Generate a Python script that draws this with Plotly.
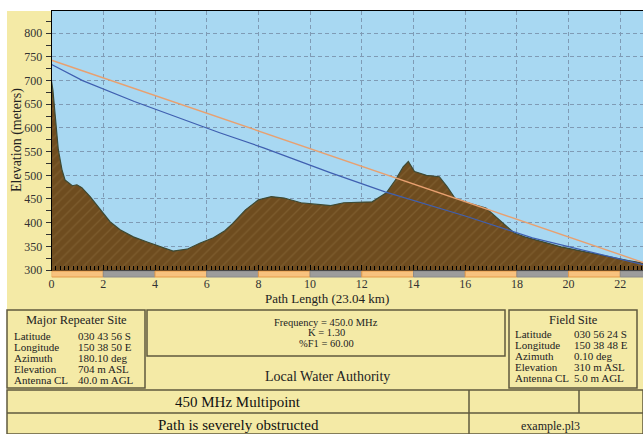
import plotly.graph_objects as go

W, H = 643, 434

# ---------------- data ----------------
terrain_km = [0, 0.05, 0.26, 0.33, 0.4, 0.52, 0.65, 0.8, 0.98, 1.17, 1.49, 1.88, 2.26,
              2.65, 3.16, 3.7, 4.2, 4.7, 5.24, 5.75, 6.26, 6.7, 7.0, 7.5, 8.0, 8.5,
              9.0, 9.65, 10.4, 10.8, 11.3, 12.4, 12.95, 13.3, 13.6, 13.8, 14.04, 14.5,
              15.0, 15.3, 15.6, 16.1, 16.8, 17.3, 17.9, 18.3, 19.0, 19.7, 20.5, 21.5,
              22.3, 23.04]
terrain_m = [698, 680, 554, 533, 512, 490, 484, 478, 480, 474, 455, 427, 402,
             385, 370, 359, 349, 340, 344, 357, 368, 383, 398, 427, 448, 455,
             452, 442, 438, 436, 442, 444, 463, 490, 518, 529, 508, 500,
             497, 476, 452, 442, 431, 406, 378, 370, 360, 349, 340, 328,
             320, 313]

los_km = [0, 23.04]          # straight line of sight (orange)
los_m = [743, 313]

beam_km = [0, 1.2, 3.2, 5.1, 6.5, 8.2, 10.8, 12.9, 16.0, 18.6, 23.04]   # blue path
beam_m = [734, 700, 656, 618, 590, 558, 505, 465, 414, 368, 309]

x_ticks = [0, 2, 4, 6, 8, 10, 12, 14, 16, 18, 20, 22]
y_ticks = [300, 350, 400, 450, 500, 550, 600, 650, 700, 750, 800]
path_length_km = 23.04

site_rows = ["Latitude", "Longitude", "Azimuth", "Elevation", "Antenna CL"]
repeater_vals = ["030 43 56 S", "150 38 50 E", "180.10 deg", "704 m ASL", "40.0 m AGL"]
field_vals = ["030 56 24 S", "150 38 48 E", "0.10 deg", "310 m ASL", "5.0 m AGL"]
radio_lines = ["Frequency = 450.0 MHz", "K = 1.30", "%F1 = 60.00"]

# ---------------- helpers ----------------
def px(x):
    return x / W

def py(y):
    return 1 - y / H

SERIF = "Liberation Serif"
BEIGE = "#f4eaa6"
BORDER = "#5f5a3e"
GRID = "#7f9bb5"
PLOT_L, PLOT_T, PLOT_B = 51.6, 11, 270
KM_PX = 25.85

fig = go.Figure()

fig.add_trace(go.Scatter(
    x=terrain_km, y=terrain_m, mode="lines", fill="tozeroy",
    line=dict(color="#3d4a35", width=1.2),
    fillcolor="#6e4c1f",
    fillpattern=dict(shape="/", bgcolor="#6e4c1f", fgcolor="#8c6b3d", size=7, solidity=0.18),
    hoverinfo="skip", showlegend=False))

fig.add_trace(go.Scatter(x=beam_km, y=beam_m, mode="lines",
                         line=dict(color="#3f5fb0", width=1.2), showlegend=False))
fig.add_trace(go.Scatter(x=los_km, y=los_m, mode="lines",
                         line=dict(color="#e8a070", width=1.4), showlegend=False))

x_max = (W - PLOT_L) / KM_PX

fig.update_layout(
    width=W, height=H, margin=dict(l=0, r=0, t=0, b=0, autoexpand=False),
    paper_bgcolor=BEIGE, plot_bgcolor="#a8d8f2",
    font=dict(family=SERIF, color="#333333", size=12),
    xaxis=dict(domain=[px(PLOT_L), 1], range=[0, x_max], tickvals=x_ticks,
               automargin=False,
               showline=True, linecolor="black", linewidth=1, mirror=True,
               ticks="inside", ticklen=5, tickcolor="black",
               minor=dict(ticks="inside", dtick=1/6, ticklen=4, tickcolor="black", showgrid=False),
               showgrid=True, gridcolor=GRID, griddash="4px,3px", gridwidth=1,
               zeroline=False, ticklabelstandoff=3,
               tickfont=dict(family=SERIF, size=12, color="#333333")),
    yaxis=dict(domain=[py(PLOT_B), py(PLOT_T)], range=[300, 847], tickvals=y_ticks,
               automargin=False,
               showline=True, linecolor="black", linewidth=1,
               ticks="outside", ticklen=5, tickcolor="#333333",
               minor=dict(ticks="outside", dtick=25, ticklen=5, tickcolor="#333333", showgrid=False),
               showgrid=True, gridcolor=GRID, griddash="4px,3px", gridwidth=1,
               zeroline=False, ticklabelstandoff=1,
               tickfont=dict(family=SERIF, size=12, color="#333333")),
)

shapes = []
# white frame strips (top and left), outside the plot area
shapes.append(dict(type="rect", xref="paper", yref="paper", x0=0, x1=1, y0=py(11), y1=1,
                   fillcolor="white", line=dict(width=0), layer="below"))
shapes.append(dict(type="rect", xref="paper", yref="paper", x0=0, x1=px(7), y0=0, y1=1,
                   fillcolor="white", line=dict(width=0), layer="below"))

# distance ruler strip below the axis
for i, start in enumerate(x_ticks):
    end = min(start + 2, path_length_km)
    orange = (i % 2 == 0)
    shapes.append(dict(type="rect", xref="x", yref="paper", x0=start, x1=end,
                       y0=py(277), y1=py(271),
                       fillcolor="#f8c27e" if orange else "#9c9c9c",
                       line=dict(color="#e59a48" if orange else "#8a8a8a", width=1),
                       layer="above"))

# boxes
def box(x0, y0, x1, y1):
    shapes.append(dict(type="rect", xref="paper", yref="paper",
                       x0=px(x0), x1=px(x1), y0=py(y1), y1=py(y0),
                       fillcolor=BEIGE, line=dict(color=BORDER, width=1.5)))

box(7, 310, 145, 388)
box(147, 310, 505, 356)
box(509, 310, 637, 388)
box(7, 390, 643, 434)
for seg in [((7, 413), (643, 413)), ((469, 390), (469, 434)), ((579, 390), (579, 413))]:
    (a, b), (c, d) = seg
    shapes.append(dict(type="line", xref="paper", yref="paper", x0=px(a), y0=py(b),
                       x1=px(c), y1=py(d), line=dict(color=BORDER, width=1.5)))

fig.update_layout(shapes=shapes)

ann = []
def text(x, y, s, size=11, anchor="left", color="#222222"):
    ann.append(dict(x=px(x), y=py(y), xref="paper", yref="paper", text=s, showarrow=False,
                    xanchor=anchor, yanchor="middle",
                    font=dict(family=SERIF, size=size, color=color)))

ann.append(dict(x=px(17), y=py(140), xref="paper", yref="paper", text="Elevation (meters)",
                showarrow=False, textangle=-90, xanchor="center", yanchor="middle",
                font=dict(family=SERIF, size=14, color="#222222")))
text(327, 298, "Path Length (23.04 km)", 13, "center")

text(76, 320, "Major Repeater Site", 12.5, "center")
rep_y = [336, 347, 358, 369, 380]
for yy, lab, val in zip(rep_y, site_rows, repeater_vals):
    text(12, yy, lab, 11)
    text(76, yy, val, 11)

text(573, 320, "Field Site", 12.5, "center")
fld_y = [334, 345, 356, 367, 378]
for yy, lab, val in zip(fld_y, site_rows, field_vals):
    text(513, yy, lab, 11)
    text(572, yy, val, 11)

for yy, s in zip([322, 332.5, 343], radio_lines):
    text(326, yy, s, 10.5, "center")
text(327, 376, "Local Water Authority", 14, "center")

text(238, 402, "450 MHz Multipoint", 15, "center", "#111111")
text(238, 425, "Path is severely obstructed", 15, "center", "#111111")
text(550, 426, "example.pl3", 12, "center")

fig.update_layout(annotations=ann)

fig.write_html("out.html", config={"displayModeBar": False},
               post_script="document.body.style.margin='0';document.body.style.overflow='hidden';")
